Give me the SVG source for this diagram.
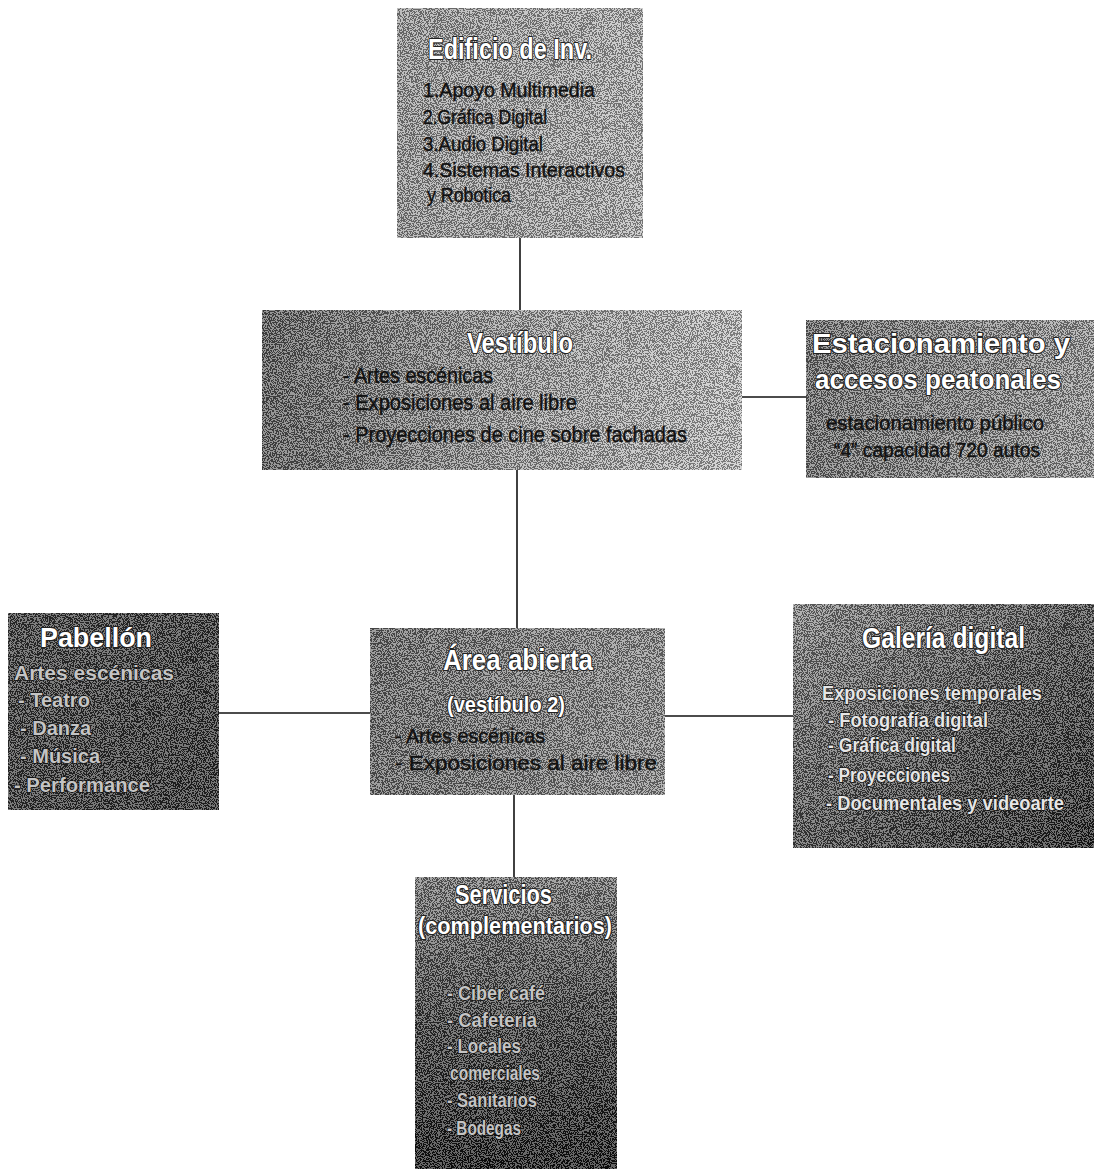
<svg xmlns="http://www.w3.org/2000/svg" width="1094" height="1169" viewBox="0 0 1094 1169">
<style>
.bg{fill:#ffffff}
.conn{stroke:#111;stroke-width:1.6;fill:none}
.grain{fill:#fff;filter:url(#grain)}
.title{font-family:"Liberation Sans",Arial,sans-serif;font-weight:bold;fill:#fff;stroke:#222;stroke-width:2.2;paint-order:stroke;stroke-linejoin:round}
.body{font-family:"Liberation Sans",Arial,sans-serif;fill:#111;stroke:#111;stroke-width:0.4}
.bodyw{font-family:"Liberation Sans",Arial,sans-serif;font-weight:bold;fill:#e6e6e6;stroke:#111;stroke-width:1.5;paint-order:stroke}
.bodyd{font-family:"Liberation Sans",Arial,sans-serif;font-weight:bold;fill:#c4c4c4;stroke:#111;stroke-width:1.5;paint-order:stroke}
</style>
<defs>
<filter id="grain" x="0" y="0" width="100%" height="100%">
<feTurbulence type="fractalNoise" baseFrequency="0.85" numOctaves="2" seed="7" result="t"/>
<feColorMatrix in="t" type="matrix" values="1 0 0 0 0  1 0 0 0 0  1 0 0 0 0  0 0 0 0 1" result="g"/>
<feComponentTransfer in="g" result="b">
<feFuncR type="discrete" tableValues="0 0 1 1"/>
<feFuncG type="discrete" tableValues="0 0 1 1"/>
<feFuncB type="discrete" tableValues="0 0 1 1"/>
<feFuncA type="linear" slope="0" intercept="0.35"/>
</feComponentTransfer>
<feComposite in="b" in2="SourceGraphic" operator="in"/>
</filter>
<linearGradient id="gEd" x1="0" y1="0" x2="1" y2="0"><stop offset="0" stop-color="#999"/><stop offset="1" stop-color="#b4b4b4"/></linearGradient>
<linearGradient id="gVe" x1="0" y1="0" x2="1" y2="0"><stop offset="0" stop-color="#5a5a5a"/><stop offset="0.5" stop-color="#9a9a9a"/><stop offset="1" stop-color="#c0c0c0"/></linearGradient>
<linearGradient id="gEs" x1="0" y1="0" x2="1" y2="0"><stop offset="0" stop-color="#6c6c6c"/><stop offset="1" stop-color="#9a9a9a"/></linearGradient>
<linearGradient id="gPa" x1="0" y1="0" x2="1" y2="1"><stop offset="0" stop-color="#3c3c3c"/><stop offset="1" stop-color="#2a2a2a"/></linearGradient>
<linearGradient id="gAr" x1="0" y1="0" x2="1" y2="0"><stop offset="0" stop-color="#686868"/><stop offset="1" stop-color="#8c8c8c"/></linearGradient>
<linearGradient id="gGa" x1="0" y1="0" x2="1" y2="1"><stop offset="0" stop-color="#8a8a8a"/><stop offset="0.5" stop-color="#4a4a4a"/><stop offset="1" stop-color="#1a1a1a"/></linearGradient>
<linearGradient id="gSe" x1="0" y1="0" x2="0" y2="1"><stop offset="0" stop-color="#777"/><stop offset="0.5" stop-color="#3a3a3a"/><stop offset="1" stop-color="#111"/></linearGradient>
</defs>
<rect class="bg" x="0" y="0" width="1094" height="1169"/>
<g id="connectors">
<line class="conn" x1="520" y1="238" x2="520" y2="310"/>
<line class="conn" x1="742" y1="397" x2="806" y2="397"/>
<line class="conn" x1="517" y1="470" x2="517" y2="628"/>
<line class="conn" x1="219" y1="713" x2="370" y2="713"/>
<line class="conn" x1="665" y1="716" x2="793" y2="716"/>
<line class="conn" x1="514" y1="795" x2="514" y2="877"/>
</g>
<g id="edificio">
<rect x="397" y="8" width="246" height="230" fill="url(#gEd)"/>
<rect class="grain" x="397" y="8" width="246" height="230"/>
<text class="title" x="428" y="59" font-size="30" textLength="164" lengthAdjust="spacingAndGlyphs">Edificio de Inv.</text>
<g class="body" font-size="21">
<text x="423" y="97" textLength="172" lengthAdjust="spacingAndGlyphs">1.Apoyo Multimedia</text>
<text x="423" y="124" textLength="124" lengthAdjust="spacingAndGlyphs">2.Gráfica Digital</text>
<text x="423" y="151" textLength="120" lengthAdjust="spacingAndGlyphs">3.Audio Digital</text>
<text x="423" y="177" textLength="202" lengthAdjust="spacingAndGlyphs">4.Sistemas Interactivos</text>
<text x="427" y="202" textLength="84" lengthAdjust="spacingAndGlyphs">y Robotica</text>
</g>
</g>
<g id="vestibulo">
<rect x="262" y="310" width="480" height="160" fill="url(#gVe)"/>
<rect class="grain" x="262" y="310" width="480" height="160"/>
<text class="title" x="467" y="353" font-size="30" textLength="106" lengthAdjust="spacingAndGlyphs">Vestíbulo</text>
<g class="body" font-size="22">
<text x="343" y="383" textLength="150" lengthAdjust="spacingAndGlyphs">- Artes escénicas</text>
<text x="343" y="410" textLength="234" lengthAdjust="spacingAndGlyphs">- Exposiciones al aire libre</text>
<text x="343" y="442" textLength="344" lengthAdjust="spacingAndGlyphs">- Proyecciones de cine sobre fachadas</text>
</g>
</g>
<g id="estacionamiento">
<rect x="806" y="320" width="288" height="158" fill="url(#gEs)"/>
<rect class="grain" x="806" y="320" width="288" height="158"/>
<text class="title" x="812" y="353" font-size="28" textLength="258" lengthAdjust="spacingAndGlyphs">Estacionamiento y</text>
<text class="title" x="815" y="389" font-size="27" textLength="246" lengthAdjust="spacingAndGlyphs">accesos peatonales</text>
<text class="body" x="826" y="430" font-size="20" textLength="218" lengthAdjust="spacingAndGlyphs">estacionamiento público</text>
<text class="body" x="834" y="457" font-size="20" textLength="206" lengthAdjust="spacingAndGlyphs">“4” capacidad 720 autos</text>
</g>
<g id="pabellon">
<rect x="8" y="613" width="211" height="197" fill="url(#gPa)"/>
<rect class="grain" x="8" y="613" width="211" height="197"/>
<text class="title" x="40" y="647" font-size="28" textLength="112" lengthAdjust="spacingAndGlyphs">Pabellón</text>
<g class="bodyd" font-size="20">
<text x="14" y="680" textLength="160" lengthAdjust="spacingAndGlyphs">Artes escénicas</text>
<text x="18" y="707">- Teatro</text>
<text x="20" y="735">- Danza</text>
<text x="20" y="763">- Música</text>
<text x="14" y="792" textLength="136" lengthAdjust="spacingAndGlyphs">- Performance</text>
</g>
</g>
<g id="area">
<rect x="370" y="628" width="295" height="167" fill="url(#gAr)"/>
<rect class="grain" x="370" y="628" width="295" height="167"/>
<text class="title" x="443" y="670" font-size="30" textLength="150" lengthAdjust="spacingAndGlyphs">Área abierta</text>
<text class="title" x="447" y="712" font-size="22" textLength="118" lengthAdjust="spacingAndGlyphs">(vestíbulo 2)</text>
<g class="body" font-size="21">
<text x="395" y="743" textLength="150" lengthAdjust="spacingAndGlyphs">- Artes escénicas</text>
<text x="395" y="770" textLength="262" lengthAdjust="spacingAndGlyphs">- Exposiciones al aire libre</text>
</g>
</g>
<g id="galeria">
<rect x="793" y="604" width="301" height="244" fill="url(#gGa)"/>
<rect class="grain" x="793" y="604" width="301" height="244"/>
<text class="title" x="862" y="648" font-size="29" textLength="163" lengthAdjust="spacingAndGlyphs">Galería digital</text>
<g class="bodyw" font-size="20">
<text x="822" y="700" textLength="220" lengthAdjust="spacingAndGlyphs">Exposiciones temporales</text>
<text x="828" y="727" textLength="160" lengthAdjust="spacingAndGlyphs">- Fotografía digital</text>
<text x="828" y="752" textLength="128" lengthAdjust="spacingAndGlyphs">- Gráfica digital</text>
<text x="828" y="782" textLength="122" lengthAdjust="spacingAndGlyphs">- Proyecciones</text>
<text x="826" y="810" textLength="238" lengthAdjust="spacingAndGlyphs">- Documentales y videoarte</text>
</g>
</g>
<g id="servicios">
<rect x="415" y="877" width="202" height="292" fill="url(#gSe)"/>
<rect class="grain" x="415" y="877" width="202" height="292"/>
<text class="title" x="455" y="904" font-size="28" textLength="97" lengthAdjust="spacingAndGlyphs">Servicios</text>
<text class="title" x="418" y="934" font-size="23" textLength="194" lengthAdjust="spacingAndGlyphs">(complementarios)</text>
<g class="bodyd" font-size="20">
<text x="447" y="1000" textLength="98" lengthAdjust="spacingAndGlyphs">- Ciber café</text>
<text x="447" y="1027" textLength="90" lengthAdjust="spacingAndGlyphs">- Cafetería</text>
<text x="447" y="1053" textLength="74" lengthAdjust="spacingAndGlyphs">- Locales</text>
<text x="450" y="1080" textLength="90" lengthAdjust="spacingAndGlyphs">comerciales</text>
<text x="447" y="1107" textLength="90" lengthAdjust="spacingAndGlyphs">- Sanitarios</text>
<text x="447" y="1135" textLength="74" lengthAdjust="spacingAndGlyphs">- Bodegas</text>
</g>
</g>
</svg>
